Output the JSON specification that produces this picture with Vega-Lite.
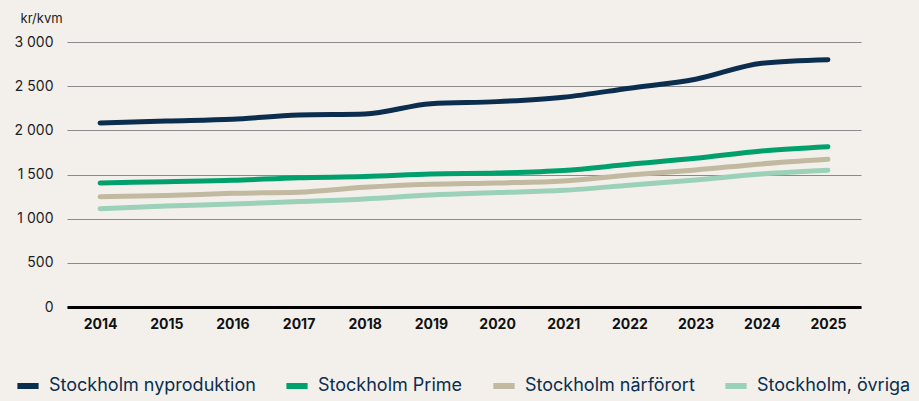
{
  "$schema": "https://vega.github.io/schema/vega-lite/v6.json",
  "width": 794,
  "height": 265,
  "autosize": {"type": "none"},
  "padding": {"left": 67, "top": 42, "right": 58, "bottom": 94},
  "background": "#f3f0eb",
  "config": {
    "view": {"stroke": null},
    "font": "Inter"
  },
  "data": {
    "values": [
      {"year": "2014", "series": "Stockholm nyproduktion", "value": 2084},
      {"year": "2015", "series": "Stockholm nyproduktion", "value": 2106},
      {"year": "2016", "series": "Stockholm nyproduktion", "value": 2125},
      {"year": "2017", "series": "Stockholm nyproduktion", "value": 2174},
      {"year": "2018", "series": "Stockholm nyproduktion", "value": 2185},
      {"year": "2019", "series": "Stockholm nyproduktion", "value": 2302},
      {"year": "2020", "series": "Stockholm nyproduktion", "value": 2325},
      {"year": "2021", "series": "Stockholm nyproduktion", "value": 2375},
      {"year": "2022", "series": "Stockholm nyproduktion", "value": 2477},
      {"year": "2023", "series": "Stockholm nyproduktion", "value": 2579},
      {"year": "2024", "series": "Stockholm nyproduktion", "value": 2760},
      {"year": "2025", "series": "Stockholm nyproduktion", "value": 2800},
      {"year": "2014", "series": "Stockholm Prime", "value": 1404},
      {"year": "2015", "series": "Stockholm Prime", "value": 1419},
      {"year": "2016", "series": "Stockholm Prime", "value": 1434},
      {"year": "2017", "series": "Stockholm Prime", "value": 1464},
      {"year": "2018", "series": "Stockholm Prime", "value": 1476},
      {"year": "2019", "series": "Stockholm Prime", "value": 1506},
      {"year": "2020", "series": "Stockholm Prime", "value": 1517},
      {"year": "2021", "series": "Stockholm Prime", "value": 1544},
      {"year": "2022", "series": "Stockholm Prime", "value": 1615},
      {"year": "2023", "series": "Stockholm Prime", "value": 1683},
      {"year": "2024", "series": "Stockholm Prime", "value": 1766},
      {"year": "2025", "series": "Stockholm Prime", "value": 1815},
      {"year": "2014", "series": "Stockholm närförort", "value": 1249},
      {"year": "2015", "series": "Stockholm närförort", "value": 1261},
      {"year": "2016", "series": "Stockholm närförort", "value": 1287},
      {"year": "2017", "series": "Stockholm närförort", "value": 1299},
      {"year": "2018", "series": "Stockholm närförort", "value": 1355},
      {"year": "2019", "series": "Stockholm närförort", "value": 1389},
      {"year": "2020", "series": "Stockholm närförort", "value": 1404},
      {"year": "2021", "series": "Stockholm närförort", "value": 1427},
      {"year": "2022", "series": "Stockholm närförort", "value": 1495},
      {"year": "2023", "series": "Stockholm närförort", "value": 1552},
      {"year": "2024", "series": "Stockholm närförort", "value": 1620},
      {"year": "2025", "series": "Stockholm närförort", "value": 1672},
      {"year": "2014", "series": "Stockholm, övriga", "value": 1113},
      {"year": "2015", "series": "Stockholm, övriga", "value": 1144},
      {"year": "2016", "series": "Stockholm, övriga", "value": 1166},
      {"year": "2017", "series": "Stockholm, övriga", "value": 1193},
      {"year": "2018", "series": "Stockholm, övriga", "value": 1223},
      {"year": "2019", "series": "Stockholm, övriga", "value": 1268},
      {"year": "2020", "series": "Stockholm, övriga", "value": 1295},
      {"year": "2021", "series": "Stockholm, övriga", "value": 1321},
      {"year": "2022", "series": "Stockholm, övriga", "value": 1378},
      {"year": "2023", "series": "Stockholm, övriga", "value": 1438},
      {"year": "2024", "series": "Stockholm, övriga", "value": 1506},
      {"year": "2025", "series": "Stockholm, övriga", "value": 1548}
    ]
  },
  "mark": {"type": "line", "strokeWidth": 5, "strokeCap": "round", "strokeJoin": "round", "interpolate": "monotone"},
  "encoding": {
    "x": {
      "field": "year",
      "type": "ordinal",
      "scale": {"type": "point", "padding": 0.5},
      "axis": {
        "title": null,
        "labelAngle": 0,
        "labelFontWeight": "bold",
        "labelFontSize": 14,
        "labelColor": "#111",
        "labelPadding": 10,
        "ticks": false,
        "domainColor": "#000",
        "domainWidth": 3,
        "grid": false
      }
    },
    "y": {
      "field": "value",
      "type": "quantitative",
      "scale": {"domain": [0, 3000], "nice": false},
      "axis": {
        "title": "kr/kvm",
        "titleAngle": 0,
        "titleAlign": "left",
        "titleBaseline": "alphabetic",
        "titleX": -47,
        "titleY": -20,
        "titleFontSize": 13,
        "titleFontWeight": "normal",
        "titleColor": "#222",
        "values": [0, 500, 1000, 1500, 2000, 2500, 3000],
        "labelExpr": "replace(format(datum.value, ','), ',', ' ')",
        "labelFontSize": 14,
        "labelColor": "#222",
        "labelPadding": 14,
        "ticks": false,
        "domain": false,
        "gridColor": "#8a8a8a",
        "gridWidth": 1.2
      }
    },
    "color": {
      "field": "series",
      "type": "nominal",
      "sort": ["Stockholm nyproduktion", "Stockholm Prime", "Stockholm närförort", "Stockholm, övriga"],
      "scale": {
        "domain": ["Stockholm nyproduktion", "Stockholm Prime", "Stockholm närförort", "Stockholm, övriga"],
        "range": ["#0b2d4e", "#00a06d", "#c1b9a0", "#9bd1b8"]
      },
      "legend": {
        "title": null,
        "orient": "none",
        "direction": "horizontal",
        "legendX": -53,
        "legendY": 330,
        "symbolType": "stroke",
        "symbolStrokeWidth": 6,
        "symbolSize": 450,
        "labelFontSize": 18,
        "labelColor": "#0b2d4e",
        "labelOffset": 7,
        "columnPadding": 18,
        "labelLimit": 400
      }
    }
  }
}
